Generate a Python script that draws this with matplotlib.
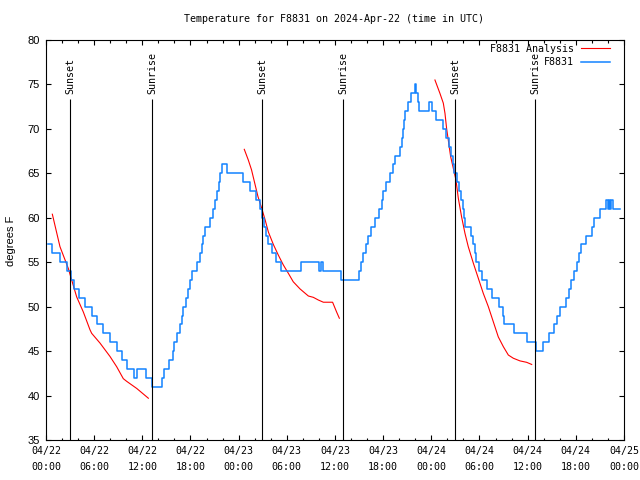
import matplotlib
matplotlib.use('Agg')
import matplotlib.pyplot as plt

# hours since 04/22 00:00 UTC
blue_hours = [0.3, 0.8, 1.8, 2.6, 3.1, 3.5, 4.15, 4.9, 5.7, 6.4, 7.1, 8.0, 8.9, 9.5,
              10.1, 11.0, 11.3, 12.5, 13.2, 14.4, 14.7, 15.3, 15.8, 16.0, 16.3, 16.7,
              16.9, 17.1, 17.4, 17.7, 17.9, 18.15, 18.8, 19.2, 19.4, 19.6, 19.8, 20.4,
              20.8, 21.0, 21.3, 21.5, 21.7, 21.96, 22.5, 24.5, 25.4, 26.2, 26.6, 26.9,
              27.1, 27.4, 27.7, 28.1, 28.6, 29.3, 31.8, 34.0, 34.3, 34.5, 36.7, 39.0,
              39.3, 39.5, 39.8, 40.1, 40.5, 41.0, 41.5, 41.8, 42.0, 42.4, 42.8, 43.2,
              43.5, 44.1, 44.35, 44.5, 44.6, 44.75, 45.1, 45.5, 45.95, 46.1, 46.3, 46.5,
              47.7, 48.1, 48.6, 49.4, 49.8, 50.15, 50.4, 50.65, 50.85, 51.2, 51.5, 51.7,
              51.9, 52.05, 52.2, 52.95, 53.2, 53.4, 53.6, 54.0, 54.3, 54.9, 55.6, 56.4,
              56.9, 57.1, 58.3, 59.9, 61.1, 61.85, 62.7, 63.3, 63.7, 64.0, 64.8, 65.1,
              65.4, 65.8, 66.1, 66.35, 66.6, 67.25, 68.0, 68.3, 69.0, 69.8, 69.96, 70.17,
              70.3, 70.4, 70.6, 71.5]
blue_temps = [57, 56, 55, 54, 53, 52, 51, 50, 49, 48, 47, 46, 45, 44,
              43, 42, 43, 42, 41, 42, 43, 44, 45, 46, 47, 48,
              49, 50, 51, 52, 53, 54, 55, 56, 57, 58, 59, 60,
              61, 62, 63, 64, 65, 66, 65, 64, 63, 62, 61, 60,
              59, 58, 57, 56, 55, 54, 55, 54, 55, 54, 53, 54,
              55, 56, 57, 58, 59, 60, 61, 62, 63, 64, 65, 66,
              67, 68, 69, 70, 71, 72, 73, 74, 75, 74, 73, 72,
              73, 72, 71, 70, 69, 68, 67, 66, 65, 64, 63, 62,
              61, 60, 59, 58, 57, 56, 55, 54, 53, 52, 51, 50,
              49, 48, 47, 46, 45, 46, 47, 48, 49, 50, 51, 52,
              53, 54, 55, 56, 57, 58, 59, 60, 61, 62, 61, 62,
              61, 62, 61, 61]

ana1_hours = [0.79, 1.74, 2.78, 3.2, 3.82, 4.65, 5.48, 5.69, 6.73, 7.97, 8.8, 9.63,
              10.05, 11.3, 12.75]
ana1_temps = [60.4, 56.75, 54.3, 53.0, 51.1, 49.4, 47.4, 47.0, 45.9, 44.4, 43.25, 41.9,
              41.6, 40.8, 39.7]
ana2_hours = [24.7, 25.2, 25.6, 26.0, 26.4, 26.86, 27.3, 27.7, 28.32, 28.94, 29.56,
              30.19, 30.8, 31.64, 32.68, 33.3, 33.92, 34.55, 35.7, 36.2, 36.54]
ana2_temps = [67.7, 66.5, 65.4, 63.9, 62.4, 61.1, 59.75, 58.4, 57.0, 55.8, 54.7,
              53.75, 52.8, 52.0, 51.2, 51.05, 50.75, 50.5, 50.5, 49.4, 48.7]
ana3_hours = [48.45, 49.07, 49.49, 49.7, 49.9, 50.11, 50.4, 50.74, 51.07, 51.36, 51.77,
              52.19, 52.6, 53.23, 53.85, 54.47, 55.1, 55.72, 56.34, 56.97, 57.59,
              58.21, 59.04, 59.87, 60.5]
ana3_temps = [75.5, 74.0, 72.9, 71.75, 70.06, 68.75, 66.9, 65.56, 64.25, 62.2, 60.1,
              58.25, 56.75, 54.9, 53.2, 51.5, 50.0, 48.3, 46.6, 45.5, 44.56,
              44.2, 43.9, 43.74, 43.5]

sunset_hours = [2.99, 26.91, 50.95]
sunrise_hours = [13.21, 37.0, 60.91]

x_ticks = [0, 6, 12, 18, 24, 30, 36, 42, 48, 54, 60, 66, 72]
x_tick_labels = ['04/22\n00:00', '04/22\n06:00', '04/22\n12:00', '04/22\n18:00',
                 '04/23\n00:00', '04/23\n06:00', '04/23\n12:00', '04/23\n18:00',
                 '04/24\n00:00', '04/24\n06:00', '04/24\n12:00', '04/24\n18:00',
                 '04/25\n00:00']

MONO = 'DejaVu Sans Mono'
RED = '#ff0000'
BLUE = '#1283ff'

fig = plt.figure(figsize=(6.4, 4.8), dpi=100)
ax = fig.add_axes([46/640, 40/480, 578/640, 400/480])

ln_red, = ax.plot(ana1_hours, ana1_temps, color=RED, lw=0.8)
ax.plot(ana2_hours, ana2_temps, color=RED, lw=0.8)
ax.plot(ana3_hours, ana3_temps, color=RED, lw=0.8)
ln_blue, = ax.plot(blue_hours, blue_temps, color=BLUE, lw=1.1, drawstyle='steps-post')

# sun events
for h in sunset_hours:
    ax.vlines(h, 35, 73.4, color='black', lw=0.8)
    ax.text(h, 73.9, 'Sunset', rotation=90, ha='center', va='bottom',
            family=MONO, fontsize=7.2)
for h in sunrise_hours:
    ax.vlines(h, 35, 73.4, color='black', lw=0.8)
    ax.text(h, 73.9, 'Sunrise', rotation=90, ha='center', va='bottom',
            family=MONO, fontsize=7.2)

ax.set_xlim(0, 72)
ax.set_ylim(35, 80)
ax.set_xticks(x_ticks)
ax.set_xticklabels(x_tick_labels, family=MONO, fontsize=7.2, linespacing=1.75)
ax.set_xticks(range(0, 73, 2), minor=True)
ax.set_yticks(range(35, 81, 5))
ax.set_yticklabels([str(v) for v in range(35, 81, 5)], family='Liberation Sans', fontsize=8)
ax.tick_params(which='major', direction='in', top=True, right=True, length=3.6, width=0.8)
ax.tick_params(which='minor', direction='in', top=True, right=True, length=1.8, width=0.8)
ax.tick_params(axis='x', pad=4.5)
ax.tick_params(axis='y', pad=4.3)
for s in ax.spines.values():
    s.set_linewidth(0.8)

ax.legend([ln_red, ln_blue], ['F8831 Analysis', 'F8831'], loc='upper right',
          bbox_to_anchor=((610-46)/578, 1 - 4/400), borderaxespad=0, borderpad=0,
          frameon=False, markerfirst=False, prop={'family': MONO, 'size': 7.2},
          handlelength=2.9, handletextpad=0.7, labelspacing=0.35)

fig.text(333.5/640, 1 - 19/480, 'Temperature for F8831 on 2024-Apr-22 (time in UTC)',
         ha='center', va='center', family=MONO, fontsize=7.2)
fig.text(11/640, 1 - 241/480, 'degrees F', rotation=90, ha='center', va='center',
         family='Liberation Sans', fontsize=8)

fig.savefig('out.png', dpi=100)
